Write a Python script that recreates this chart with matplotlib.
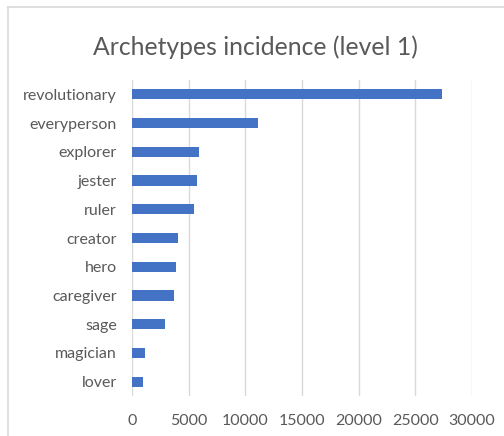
import matplotlib
matplotlib.use("Agg")
import matplotlib.pyplot as plt
from matplotlib.lines import Line2D

categories = ["revolutionary", "everyperson", "explorer", "jester", "ruler",
              "creator", "hero", "caregiver", "sage", "magician", "lover"]
counts = [27350, 11100, 5880, 5700, 5500, 4030, 3880, 3700, 2880, 1180, 1000]
xticks = [0, 5000, 10000, 15000, 20000, 25000, 30000]

TEXT = "#595959"
plt.rcParams['font.family'] = ['Lato', 'DejaVu Sans']

fig = plt.figure(figsize=(5.04, 4.36), dpi=100)
ax = fig.add_axes([132/504, 1 - 396/436, 340/504, 316/436])

ypos = list(range(len(categories)))
ax.barh(ypos, counts, height=0.355, color="#4472C4", zorder=3)
ax.set_ylim(len(categories) - 0.5, -0.5)
ax.set_xlim(0, 30000)
ax.set_yticks(ypos)
ax.set_yticklabels(categories, fontsize=11.5, color=TEXT)
ax.set_xticks(xticks)
ax.set_xticklabels([str(t) for t in xticks], fontsize=11.5, color=TEXT)
ax.tick_params(axis="both", length=0)
ax.tick_params(axis="y", pad=11)
ax.tick_params(axis="x", pad=13)
ax.grid(axis="x", color="#d9d9d9", linewidth=1, zorder=0)
for s in ax.spines.values():
    s.set_visible(False)

fig.text(255/504, 1 - 47/436, "Archetypes incidence (level 1)", fontsize=17.8,
         color=TEXT, ha="center", va="center")

# chart frame (top and left edges visible)
fig.add_artist(Line2D([8/504, 1], [1 - 7/436, 1 - 7/436], color="#d9d9d9", lw=1.2))
fig.add_artist(Line2D([8/504, 8/504], [0, 1 - 7/436], color="#d9d9d9", lw=1.2))

fig.savefig("out.png", dpi=100)
